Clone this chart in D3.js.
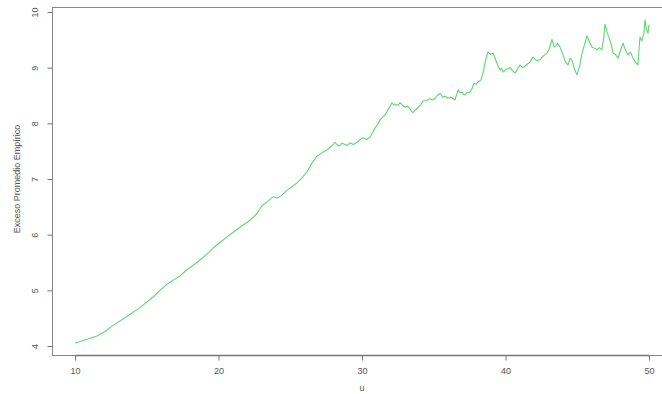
<!DOCTYPE html>
<html>
<head>
<meta charset="utf-8">
<script src="https://cdn.jsdelivr.net/npm/d3@7"></script>
<style>
  html, body { margin: 0; padding: 0; background: #fff; }
  svg { display: block; }
  text { font-family: "Liberation Sans", Arial, sans-serif; fill: #555; }
</style>
</head>
<body>
<svg id="chart" width="662" height="394"></svg>
<script>
// Threshold u and empirical mean excess
const uValues = [
  10.00, 10.84, 11.53, 12.09, 12.65, 13.62, 14.53, 15.44, 15.92, 16.41,
  17.32, 17.80, 18.50, 18.92, 19.41, 19.62, 20.10, 20.59, 21.01, 21.64,
  22.20, 22.68, 23.03, 23.38, 23.80, 24.10, 24.43, 24.77, 25.12, 25.47,
  25.82, 26.17, 26.52, 26.86, 27.21, 27.42, 27.60, 27.77, 27.95, 28.12,
  28.25, 28.40, 28.58, 28.75, 28.95, 29.16, 29.40, 29.65, 29.85, 30.07,
  30.30, 30.56, 30.75, 30.91, 31.10, 31.25, 31.45, 31.60, 31.85, 32.09,
  32.20, 32.30, 32.48, 32.65, 32.82, 33.00, 33.17, 33.34, 33.45, 33.55,
  33.72, 33.90, 34.08, 34.25, 34.50, 34.74, 34.90, 35.09, 35.25, 35.44,
  35.55, 35.64, 35.80, 35.99, 36.20, 36.48, 36.60, 36.69, 36.85, 36.97,
  37.08, 37.18, 37.35, 37.53, 37.68, 37.80, 37.95, 38.08, 38.20, 38.29,
  38.43, 38.57, 38.68, 38.78, 38.95, 39.13, 39.27, 39.41, 39.52, 39.62,
  39.73, 39.83, 40.05, 40.31, 40.48, 40.66, 40.85, 41.01, 41.18, 41.36,
  41.55, 41.71, 41.82, 41.92, 42.15, 42.40, 42.60, 42.89, 43.05, 43.24,
  43.35, 43.45, 43.62, 43.80, 43.90, 44.01, 44.18, 44.36, 44.50, 44.63,
  44.80, 44.98, 45.08, 45.19, 45.30, 45.40, 45.55, 45.68, 45.85, 46.03,
  46.20, 46.38, 46.55, 46.72, 46.85, 46.93, 47.10, 47.28, 47.40, 47.49,
  47.65, 47.84, 48.00, 48.19, 48.35, 48.54, 48.70, 48.89, 49.05, 49.23,
  49.30, 49.37, 49.50, 49.65, 49.72, 49.82, 49.93, 50.00
];
const excessValues = [
  4.05, 4.12, 4.18, 4.26, 4.37, 4.53, 4.69, 4.88, 5.00, 5.11,
  5.26, 5.37, 5.50, 5.59, 5.70, 5.76, 5.86, 5.96, 6.04, 6.16,
  6.26, 6.38, 6.52, 6.59, 6.68, 6.66, 6.71, 6.80, 6.86, 6.93,
  7.02, 7.13, 7.29, 7.41, 7.47, 7.50, 7.53, 7.57, 7.61, 7.66,
  7.62, 7.59, 7.64, 7.63, 7.60, 7.65, 7.62, 7.66, 7.70, 7.74,
  7.71, 7.75, 7.84, 7.92, 7.98, 8.06, 8.11, 8.15, 8.26, 8.37,
  8.33, 8.35, 8.32, 8.37, 8.33, 8.29, 8.31, 8.26, 8.22, 8.19,
  8.24, 8.28, 8.33, 8.40, 8.41, 8.44, 8.42, 8.45, 8.50, 8.54,
  8.50, 8.47, 8.49, 8.45, 8.47, 8.42, 8.52, 8.60, 8.55, 8.56,
  8.52, 8.51, 8.55, 8.56, 8.63, 8.72, 8.70, 8.74, 8.76, 8.78,
  8.90, 9.08, 9.20, 9.28, 9.24, 9.26, 9.17, 9.08, 9.01, 8.96,
  8.99, 8.92, 8.97, 9.00, 8.95, 8.90, 8.98, 9.05, 9.00, 9.03,
  9.07, 9.10, 9.15, 9.19, 9.13, 9.14, 9.20, 9.26, 9.34, 9.51,
  9.40, 9.37, 9.44, 9.37, 9.30, 9.23, 9.10, 9.05, 9.17, 9.14,
  8.98, 8.87, 8.95, 9.05, 9.22, 9.32, 9.45, 9.57, 9.46, 9.37,
  9.35, 9.32, 9.36, 9.32, 9.55, 9.78, 9.62, 9.50, 9.38, 9.26,
  9.24, 9.17, 9.30, 9.44, 9.32, 9.23, 9.28, 9.17, 9.10, 9.05,
  9.30, 9.55, 9.48, 9.62, 9.86, 9.70, 9.62, 9.77
];
const xTicks = [10, 20, 30, 40, 50];
const yTicks = [4, 5, 6, 7, 8, 9, 10];

const svg = d3.select("#chart");
const boxLeft = 52, boxTop = 7, boxBottom = 355, boxRight = 672;

const x = d3.scaleLinear().domain([10, 50]).range([75, 649]);
const y = d3.scaleLinear().domain([4, 10]).range([346, 12]);

// Plot frame (extends past the right edge)
svg.append("rect")
  .attr("x", boxLeft + 0.5).attr("y", boxTop + 0.5)
  .attr("width", boxRight - boxLeft).attr("height", boxBottom - boxTop)
  .attr("fill", "none").attr("stroke", "#888").attr("stroke-width", 1);

// Bottom axis
const xAxis = d3.axisBottom(x).tickValues(xTicks).tickSize(5).tickPadding(5)
  .tickFormat(d3.format("d"));
const gx = svg.append("g").attr("transform", `translate(0,${boxBottom + 0.5})`).call(xAxis);
gx.select(".domain").attr("stroke", "#777").attr("stroke-width", 1.5)
  .attr("d", `M${x(10)},0H${x(50)}`);
gx.selectAll(".tick line").attr("stroke", "#777");
gx.selectAll(".tick text").attr("fill", "#555").style("font-size", "9px")
  .attr("dy", "0.9em");

// Left axis with rotated labels
const yAxis = d3.axisLeft(y).tickValues(yTicks).tickSize(5).tickFormat(d3.format("d"));
const gy = svg.append("g").attr("transform", `translate(${boxLeft + 0.5},0)`).call(yAxis);
gy.select(".domain").attr("stroke", "#888").attr("d", `M0,${y(4)}V${y(10)}`);
gy.selectAll(".tick line").attr("stroke", "#777");
gy.selectAll(".tick text")
  .attr("fill", "#555").style("font-size", "9px")
  .attr("x", null).attr("dy", null)
  .attr("text-anchor", "middle")
  .attr("transform", "translate(-15,0) rotate(-90)");

// Axis titles
svg.append("text").attr("x", x(30)).attr("y", 391)
  .attr("text-anchor", "middle").style("font-size", "9px").text("u");
svg.append("text")
  .attr("transform", `translate(20,${y(7)}) rotate(-90)`)
  .attr("text-anchor", "middle").style("font-size", "9px")
  .text("Exceso Promedio Empírico");

// Mean excess curve
const line = d3.line().x((d, i) => x(uValues[i])).y(d => y(d));
svg.append("path")
  .datum(excessValues)
  .attr("d", line)
  .attr("fill", "none")
  .attr("stroke", "#62d474")
  .attr("stroke-width", 1.1)
  .attr("stroke-linejoin", "round");
</script>
</body>
</html>
